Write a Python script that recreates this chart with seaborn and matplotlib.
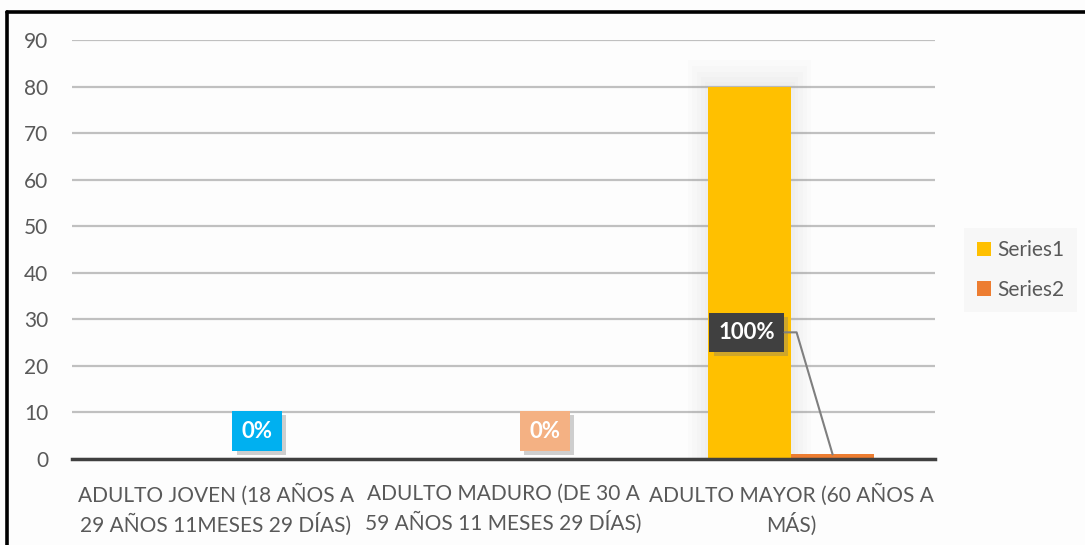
import matplotlib
matplotlib.use("Agg")

import matplotlib.pyplot as plt
import matplotlib.patches as mpatches
import matplotlib.patheffects as pe
from matplotlib.lines import Line2D
from matplotlib.transforms import IdentityTransform
import numpy as np
import pandas as pd
import seaborn as sns


CATEGORIES = [
    "ADULTO JOVEN (18 AÑOS A\n29 AÑOS 11MESES 29 DÍAS)",
    "ADULTO MADURO (DE 30 A\n59 AÑOS 11 MESES 29 DÍAS)",
    "ADULTO MAYOR (60 AÑOS A\nMÁS)",
]
SERIES1 = [0, 0, 80]
SERIES2 = [0, 0, 1]
SERIES2_LABELS = ["0%", "0%", "100%"]
Y_TICKS = list(range(0, 100, 10))

COLORS = {"Series1": "#ffc000", "Series2": "#ed7d31"}
LABEL_BOX_COLORS = ["#00b0f0", "#f4b183", "#404040"]
TEXT_GREY = "#595959"
FONT_SIZE = 15


def main() -> None:
    sns.set_theme(style="white")
    plt.rcParams["font.family"] = ["Lato", "DejaVu Sans"]
    plt.rcParams["hatch.color"] = "#5a5a5a"
    plt.rcParams["hatch.linewidth"] = 1.5

    df = pd.DataFrame({
        "category": CATEGORIES * 2,
        "series": ["Series1"] * len(CATEGORIES) + ["Series2"] * len(CATEGORIES),
        "value": SERIES1 + SERIES2,
    })

    fig = plt.figure(figsize=(10.85, 5.45), dpi=100, facecolor="#fdfdfd")
    ax = fig.add_axes([72 / 1085, 1 - 459 / 545, (935 - 72) / 1085, (459 - 40) / 545])
    ax.set_facecolor("none")

    sns.barplot(df, x="category", y="value", hue="series", palette=COLORS,
                width=0.576, gap=0, saturation=1, linewidth=0, edgecolor="none",
                ax=ax, zorder=3, legend=True)

    # soft glow around the tall bar
    s1_bars = ax.containers[0]
    for rect in s1_bars:
        if rect.get_height() <= 0:
            continue
        x0, w, h = rect.get_x(), rect.get_width(), rect.get_height()
        for grow in [0.07, 0.055, 0.04, 0.025, 0.012]:
            ax.add_patch(mpatches.Rectangle((x0 - grow, 0), w + 2 * grow, h + grow * 80,
                                            facecolor="#999999", alpha=0.028,
                                            edgecolor="none", zorder=2))

    ax.set_ylim(0, 90)
    ax.set_xlim(-0.5, len(CATEGORIES) - 0.5)
    ax.set_yticks(Y_TICKS)
    ax.yaxis.grid(True, color="#c0c0c0", linewidth=1.6, zorder=0)
    ax.set_axisbelow(True)
    ax.tick_params(axis="y", length=0, pad=17, labelsize=FONT_SIZE, labelcolor=TEXT_GREY)
    ax.tick_params(axis="x", which="major", length=0, pad=18, labelsize=FONT_SIZE, labelcolor=TEXT_GREY)
    for lbl in ax.get_xticklabels():
        lbl.set_linespacing(1.35)
    ax.set_xticks([i - 0.5 for i in range(len(CATEGORIES) + 1)], minor=True)
    ax.tick_params(axis="x", which="minor", length=7, width=2.5, color="#404040", direction="out")
    ax.set_xlabel("")
    ax.set_ylabel("")
    for side in ["top", "right", "left"]:
        ax.spines[side].set_visible(False)
    ax.spines["bottom"].set_color("#404040")
    ax.spines["bottom"].set_linewidth(2.5)
    ax.spines["bottom"].set_zorder(4)

    shadow = [pe.SimplePatchShadow(offset=(3, -3), shadow_rgbFace="#777777", alpha=0.35), pe.Normal()]

    # data labels for Series2
    s2_bars = ax.containers[1]
    for i, rect in enumerate(s2_bars):
        cx = rect.get_x() + rect.get_width() / 2
        top = rect.get_height()
        if SERIES2_LABELS[i] == "100%":
            ann = ax.annotate(SERIES2_LABELS[i], xy=(cx, top), xytext=(-86, 122),
                              textcoords="offset pixels", ha="center", va="center",
                              fontsize=16, fontweight="bold", color="white", zorder=6,
                              bbox=dict(boxstyle="square,pad=0.4", facecolor=LABEL_BOX_COLORS[i],
                                        edgecolor="none", hatch="..", linewidth=0))
            # leader line: box edge -> short elbow -> bar top
            anchor = ax.transData.transform((cx, top))
            pts = anchor + np.array([[-48, 122], [-36, 122], [0, 0]])
            fig.add_artist(Line2D(pts[:, 0], pts[:, 1], color="#7f7f7f", linewidth=1.5,
                                  transform=IdentityTransform(), zorder=5))
        else:
            ann = ax.annotate(SERIES2_LABELS[i], xy=(cx, top), xytext=(0, 28),
                              textcoords="offset pixels", ha="center", va="center",
                              fontsize=16, fontweight="bold", color="white", zorder=6,
                              bbox=dict(boxstyle="square,pad=0.42", facecolor=LABEL_BOX_COLORS[i],
                                        edgecolor="none"))
        ann.get_bbox_patch().set_path_effects(shadow)

    leg = ax.legend(loc="center left", bbox_to_anchor=(964 / 1085, 1 - 270 / 545),
                    bbox_transform=fig.transFigure, frameon=True, fontsize=FONT_SIZE,
                    handlelength=0.7, handleheight=0.7, handletextpad=0.3,
                    labelspacing=0.95, borderpad=0.6, borderaxespad=0, title=None)
    leg.get_frame().set_facecolor("#f6f6f6")
    leg.get_frame().set_edgecolor("none")
    leg.get_frame().set_boxstyle("square", pad=0)
    for t in leg.get_texts():
        t.set_color(TEXT_GREY)

    # heavy outer border on left and top edges
    fig.add_artist(Line2D([6.5 / 1085, 6.5 / 1085], [0, 1 - 11.5 / 545], color="black",
                          linewidth=2.6, transform=fig.transFigure))
    fig.add_artist(Line2D([6.5 / 1085, 1], [1 - 11.5 / 545, 1 - 11.5 / 545], color="black",
                          linewidth=2.6, transform=fig.transFigure))

    fig.savefig("out.png", dpi=100, facecolor=fig.get_facecolor())


if __name__ == "__main__":
    main()
